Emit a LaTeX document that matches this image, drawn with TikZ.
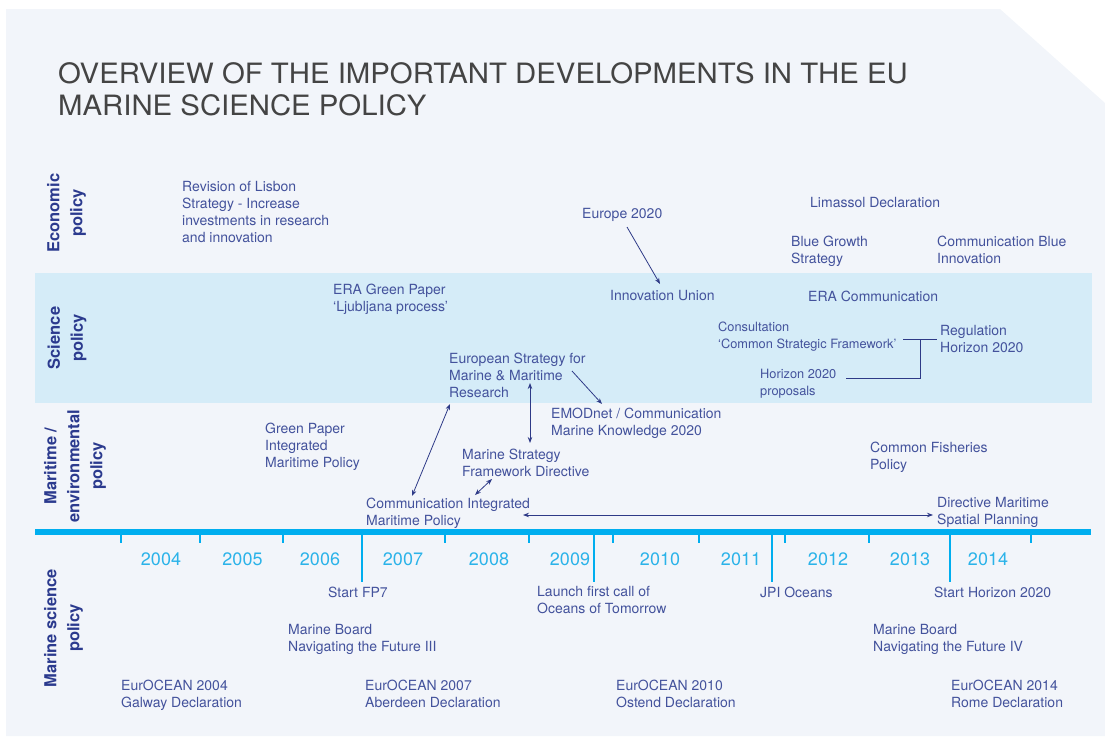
\documentclass[tikz,border=0pt]{standalone}
\usepackage{graphicx}
\usepackage{fontspec}
\setmainfont{TeX Gyre Heros}
\usetikzlibrary{arrows.meta,calc}
\definecolor{panel}{HTML}{F2F5FA}
\definecolor{sciband}{HTML}{D5ECF8}
\definecolor{txtblue}{HTML}{43529C}
\definecolor{lblblue}{HTML}{2B3A8E}
\definecolor{arrblue}{HTML}{2E3A87}
\definecolor{linecyan}{HTML}{00AEEF}
\definecolor{yearcyan}{HTML}{2BB3E9}
\definecolor{titlegray}{HTML}{444444}
\begin{document}
\begin{tikzpicture}[x=1pt,y=-1pt,
  txt/.style={anchor=north west, inner sep=0pt, yshift=-1pt, align=left, text=txtblue, font=\fontsize{14}{17}\selectfont},
  smalltxt/.style={txt, font=\fontsize{12.8}{17}\selectfont},
  yr/.style={anchor=center, inner sep=0pt, text=yearcyan, font=\fontsize{18}{20}\selectfont},
  cat/.style={anchor=center, inner sep=0pt, align=center, rotate=90, text=lblblue, font=\fontsize{16.5}{23}\selectfont\bfseries},
  conn/.style={draw=arrblue, line width=0.8pt},
  onehead/.style={conn, -{Stealth[length=6pt,width=4.5pt]}},
  twohead/.style={conn, {Stealth[length=6pt,width=4.5pt]}-{Stealth[length=6pt,width=4.5pt]}},
  tickmark/.style={draw=linecyan, line width=1.5pt}]
\useasboundingbox (0,0) rectangle (1105,736);
% background panel with cut corner
\fill[panel] (6,9) -- (1000,9) -- (1105,103) -- (1105,736) -- (6,736) -- cycle;
% science band
\fill[sciband] (35,273) rectangle (1092,403);
% title
\node[anchor=north west, inner sep=0pt, align=left, text=titlegray, font=\fontsize{28}{32}\selectfont] (title) at (58,62)
  {\scalebox{1.048}[1]{OVERVIEW OF THE IMPORTANT DEVELOPMENTS IN THE EU}\\\scalebox{1.048}[1]{MARINE SCIENCE POLICY}};
% category labels
\node[cat] (lecon) at (66.5,213) {Economic\\policy};
\node[cat] (lsci) at (67,338) {Science\\policy};
\node[cat] (lmar) at (75,466) {Maritime /\\environmental\\policy};
\node[cat] (lmsp) at (63.5,628) {Marine science\\policy};
% timeline
\draw[draw=linecyan, line width=6pt] (35,532) -- (1091,532);
\foreach \x in {121,200,283,445,529,613,699,785,869,1031}
  \draw[tickmark] (\x,535) -- (\x,543);
\foreach \x in {362,594,772,950}
  \draw[tickmark] (\x,535) -- (\x,582);
% years
\node[yr] (y2004) at (161,559) {2004};
\node[yr] (y2005) at (242.5,559) {2005};
\node[yr] (y2006) at (320,559) {2006};
\node[yr] (y2007) at (403,559) {2007};
\node[yr] (y2008) at (489,559) {2008};
\node[yr] (y2009) at (570,559) {2009};
\node[yr] (y2010) at (660,559) {2010};
\node[yr] (y2011) at (741,559) {2011};
\node[yr] (y2012) at (828,559) {2012};
\node[yr] (y2013) at (910,559) {2013};
\node[yr] (y2014) at (988,559) {2014};
% economic policy
\node[txt] (lisbon) at (182,180) {Revision of Lisbon\\Strategy - Increase\\investments in research\\and innovation};
\node[txt] (eu2020) at (582,207) {Europe 2020};
\node[txt] (limassol) at (810,196) {Limassol Declaration};
\node[txt] (bluegrowth) at (791,235) {Blue Growth\\Strategy};
\node[txt] (commblue) at (937,235) {Communication Blue\\Innovation};
% science policy
\node[txt] (eragreen) at (333,283) {ERA Green Paper\\‘Ljubljana process’};
\node[txt] (innov) at (610,289) {Innovation Union};
\node[txt] (eracomm) at (808,290) {ERA Communication};
\node[smalltxt] (consult) at (718,321) {Consultation\\‘Common Strategic Framework’};
\node[txt] (regul) at (940,324) {Regulation\\Horizon 2020};
\node[smalltxt] (h2020prop) at (760,368) {Horizon 2020\\proposals};
\node[txt] (eustrat) at (449,352) {European Strategy for\\Marine \& Maritime\\Research};
% maritime policy
\node[txt] (emod) at (551,407) {EMODnet / Communication\\Marine Knowledge 2020};
\node[txt] (greenpaper) at (265,422) {Green Paper\\Integrated\\Maritime Policy};
\node[txt] (msfd) at (462,448) {Marine Strategy\\Framework Directive};
\node[txt] (cfp) at (870,441) {Common Fisheries\\Policy};
\node[txt] (commimp) at (366,497) {Communication Integrated\\Maritime Policy};
\node[txt] (msp) at (937,496) {Directive Maritime\\Spatial Planning};
% marine science policy
\node[txt] (fp7) at (328,586) {Start FP7};
\node[txt] (oot) at (537,585) {Launch first call of\\Oceans of Tomorrow};
\node[txt] (jpi) at (760,586) {JPI Oceans};
\node[txt] (starth) at (934,586) {Start Horizon 2020};
\node[txt] (mb3) at (288,623) {Marine Board\\Navigating the Future III};
\node[txt] (mb4) at (873,623) {Marine Board\\Navigating the Future IV};
\node[txt] (eo2004) at (121,679) {EurOCEAN 2004\\Galway Declaration};
\node[txt] (eo2007) at (365,679) {EurOCEAN 2007\\Aberdeen Declaration};
\node[txt] (eo2010) at (616,679) {EurOCEAN 2010\\Ostend Declaration};
\node[txt] (eo2014) at (951,679) {EurOCEAN 2014\\Rome Declaration};
% connectors
\draw[onehead] ($(eu2020.north west)+(45,19)$) -- ($(innov.north west)+(50,-6)$);
\draw[onehead] ($(eustrat.north west)+(123,18)$) -- ($(emod.north west)+(51,-4)$);
\draw[twohead] ($(eustrat.north west)+(81,30)$) -- ($(msfd.north west)+(68,-6)$);
\draw[twohead] ($(commimp.north west)+(46,-2)$) -- ($(eustrat.north west)+(1,51)$);
\draw[twohead] ($(commimp.north west)+(109,-3)$) -- ($(msfd.north west)+(30,30)$);
\draw[twohead] ($(commimp.north west)+(157,17)$) -- ($(msp.north west)+(-4,18)$);
\draw[conn] ($(consult.north west)+(185,17)$) -- ($(regul.north west)+(-3,14)$);
\draw[conn] ($(h2020prop.north west)+(86,9)$) -| ($(consult.north west)+(202,17)$);
\end{tikzpicture}
\end{document}
